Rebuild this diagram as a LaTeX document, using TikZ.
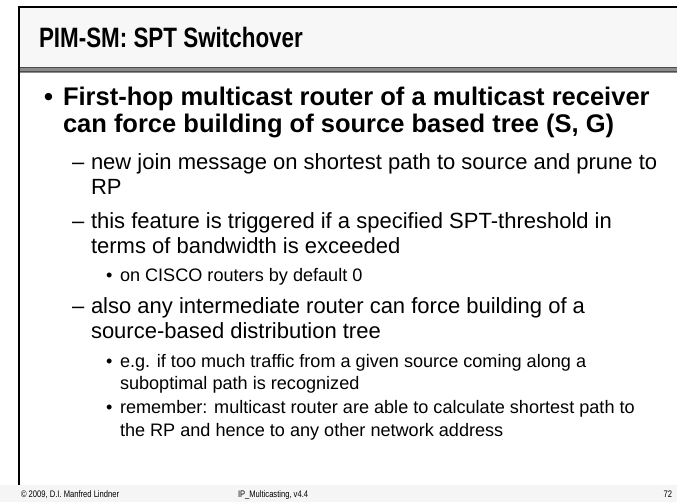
\documentclass[tikz,border=0pt]{standalone}
\usepackage{fontspec}
\setmainfont{Liberation Sans}
\newfontfamily\narrowfont[FakeStretch=0.8]{Liberation Sans}
\usetikzlibrary{positioning}

\definecolor{barfill}{HTML}{F7F7F7}
\definecolor{footfill}{HTML}{F5F5F5}
\definecolor{rulegray}{HTML}{8C8C8C}

\tikzset{
  line/.style={anchor=base west,inner sep=0pt,outer sep=0pt},
  title/.style={line,font=\narrowfont\fontsize{28}{30}\selectfont\bfseries},
  lvlone/.style={line,font=\fontsize{25.5}{28}\selectfont\bfseries},
  lvltwo/.style={line,font=\fontsize{22}{25}\selectfont},
  lvlthree/.style={line,font=\fontsize{18.1}{20}\selectfont},
  foot/.style={line,font=\narrowfont\fontsize{9.5}{10}\selectfont}
}

\begin{document}
\begin{tikzpicture}[x=1pt,y=-1pt]
  \useasboundingbox (0,0) rectangle (677,502);
  % frame and bars
  \fill[barfill] (19,8) rectangle (677,67);
  \fill[footfill] (0,485) rectangle (677,502);
  \fill[rulegray] (19,67) rectangle (677,73);
  \draw[black!70,line width=1pt] (19,67.5) -- (677,67.5);
  \draw[black!70,line width=1pt] (19,71.5) -- (677,71.5);
  \draw[line width=2pt] (18,7.5) -- (677,7.5);
  \draw[line width=1.5pt] (19,7) -- (19,485);

  \node[title] (head) at (39,48) {PIM-SM: SPT Switchover};

  % first level
  \node[lvlone] (b1) at (44,106) {•};
  \node[lvlone] (t1a) at (63,106) {First-hop multicast router of a multicast receiver};
  \node[lvlone] (t1b) at (63,133) {can force building of source based tree (S, G)};

  % second level
  \node[lvltwo] (d1) at (72,170) {–};
  \node[lvltwo] (t2a) at (91,170) {new join message on shortest path to source and prune to};
  \node[lvltwo] (t2b) at (91,195) {RP};
  \node[lvltwo] (d2) at (72,229) {–};
  \node[lvltwo] (t2c) at (91,229) {this feature is triggered if a specified SPT-threshold in};
  \node[lvltwo] (t2d) at (91,254) {terms of bandwidth is exceeded};
  \node[lvlthree] (b2) at (106,282) {•};
  \node[lvlthree] (t3a) at (120,282) {on CISCO routers by default 0};
  \node[lvltwo] (d3) at (72,314) {–};
  \node[lvltwo] (t2e) at (91,314) {also any intermediate router can force building of a};
  \node[lvltwo] (t2f) at (91,339) {source-based distribution tree};
  \node[lvlthree] (b3) at (106,367) {•};
  \node[lvlthree] (t3b) at (120,367) {e.g. if too much traffic from a given source coming along a};
  \node[lvlthree] (t3c) at (120,389) {suboptimal path is recognized};
  \node[lvlthree] (b4) at (106,413) {•};
  \node[lvlthree] (t3d) at (120,413) {remember: multicast router are able to calculate shortest path to};
  \node[lvlthree] (t3e) at (120,436) {the RP and hence to any other network address};

  % footer
  \node[foot] (copy) at (21,497) {© 2009, D.I. Manfred Lindner};
  \node[foot] (deck) at (238,497) {IP\_Multicasting, v4.4};
  \node[foot,anchor=base east] (page) at (672,497) {72};
\end{tikzpicture}
\end{document}
